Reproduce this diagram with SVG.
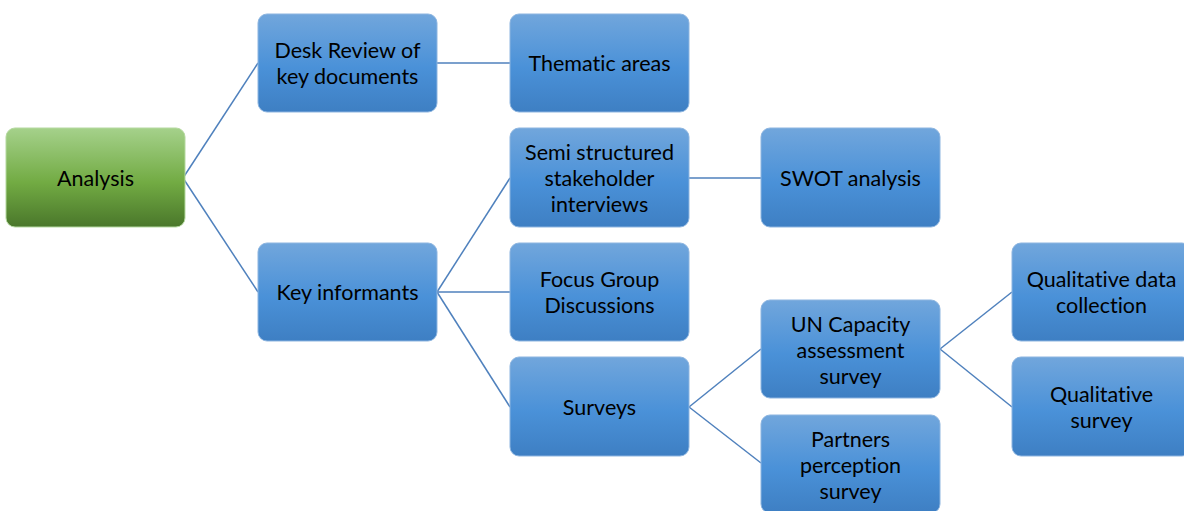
<svg xmlns="http://www.w3.org/2000/svg" width="1184" height="511" viewBox="0 0 1184 511">
  <defs>
    <linearGradient id="gBlue" x1="0" y1="0" x2="0" y2="1">
      <stop offset="0" stop-color="#71a6dc"/>
      <stop offset="0.55" stop-color="#4a91d8"/>
      <stop offset="1" stop-color="#3e7fc3"/>
    </linearGradient>
    <linearGradient id="gGreen" x1="0" y1="0" x2="0" y2="1">
      <stop offset="0" stop-color="#a5d18b"/>
      <stop offset="0.55" stop-color="#72ab43"/>
      <stop offset="1" stop-color="#4a772b"/>
    </linearGradient>
    <style>
      .box { fill: url(#gBlue); stroke: #8db5e0; stroke-width: 1; }
      .root { fill: url(#gGreen); stroke: #b5d9a0; stroke-width: 1; }
      .lbl { font-family: Lato, "Noto Sans", "Liberation Sans", sans-serif; font-size: 21.5px; fill: #000; text-anchor: middle; font-variant-ligatures: none; }
      .edge { fill: none; stroke: #4f81bd; stroke-width: 1.5; }
    </style>
  </defs>

  <!-- connectors -->
  <g id="connectors" class="edge">
    <path d="M183,178 L258,63"/>
    <path d="M183,178 L258,292"/>
    <path d="M437,63 L510,63"/>
    <path d="M437,292 L510,178"/>
    <path d="M437,292 L510,292"/>
    <path d="M437,292 L510,407"/>
    <path d="M689,178 L761,178"/>
    <path d="M689,407 L761,349"/>
    <path d="M689,407 L761,463"/>
    <path d="M940,349 L1012,292"/>
    <path d="M940,349 L1012,407"/>
  </g>

  <g id="analysis">
    <rect class="root" x="6" y="128" width="179" height="99" rx="9"/>
    <text class="lbl" x="95.5" y="185.5">Analysis</text>
  </g>

  <g id="desk-review">
    <rect class="box" x="258" y="14" width="179" height="98" rx="9"/>
    <text class="lbl" x="347.5" y="57.5">Desk Review of</text>
    <text class="lbl" x="347.5" y="83.5">key documents</text>
  </g>

  <g id="thematic-areas">
    <rect class="box" x="510" y="14" width="179" height="98" rx="9"/>
    <text class="lbl" x="599.5" y="70.5">Thematic areas</text>
  </g>

  <g id="key-informants">
    <rect class="box" x="258" y="243" width="179" height="98" rx="9"/>
    <text class="lbl" x="347.5" y="299.5">Key informants</text>
  </g>

  <g id="semi-structured">
    <rect class="box" x="510" y="128" width="179" height="99" rx="9"/>
    <text class="lbl" x="599.5" y="159.5">Semi structured</text>
    <text class="lbl" x="599.5" y="185.5">stakeholder</text>
    <text class="lbl" x="599.5" y="211.5">interviews</text>
  </g>

  <g id="swot">
    <rect class="box" x="761" y="128" width="179" height="99" rx="9"/>
    <text class="lbl" x="850.5" y="185.5">SWOT analysis</text>
  </g>

  <g id="focus-group">
    <rect class="box" x="510" y="243" width="179" height="98" rx="9"/>
    <text class="lbl" x="599.5" y="286.5">Focus Group</text>
    <text class="lbl" x="599.5" y="312.5">Discussions</text>
  </g>

  <g id="surveys">
    <rect class="box" x="510" y="357" width="179" height="99" rx="9"/>
    <text class="lbl" x="599.5" y="414.5">Surveys</text>
  </g>

  <g id="un-capacity">
    <rect class="box" x="761" y="300" width="179" height="98" rx="9"/>
    <text class="lbl" x="850.5" y="331.5">UN Capacity</text>
    <text class="lbl" x="850.5" y="357.5">assessment</text>
    <text class="lbl" x="850.5" y="383.5">survey</text>
  </g>

  <g id="partners">
    <rect class="box" x="761" y="415" width="179" height="98" rx="9"/>
    <text class="lbl" x="850.5" y="446.5">Partners</text>
    <text class="lbl" x="850.5" y="472.5">perception</text>
    <text class="lbl" x="850.5" y="498.5">survey</text>
  </g>

  <g id="qualitative-data">
    <rect class="box" x="1012" y="243" width="179" height="98" rx="9"/>
    <text class="lbl" x="1101.5" y="286.5">Qualitative data</text>
    <text class="lbl" x="1101.5" y="312.5">collection</text>
  </g>

  <g id="qualitative-survey">
    <rect class="box" x="1012" y="357" width="179" height="99" rx="9"/>
    <text class="lbl" x="1101.5" y="401.5">Qualitative</text>
    <text class="lbl" x="1101.5" y="427.5">survey</text>
  </g>
</svg>
